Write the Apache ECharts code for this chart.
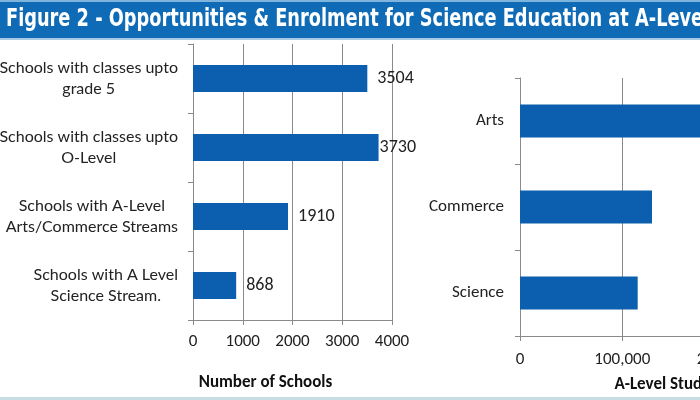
<!DOCTYPE html>
<html>
<head>
<meta charset="utf-8">
<script src="https://cdn.jsdelivr.net/npm/echarts@6/dist/echarts.min.js"></script>
<style>
html,body{margin:0;padding:0;background:#fff;}
#c{width:700px;height:400px;}
</style>
</head>
<body>
<div id="c"></div>
<script>
var titleText = 'Figure 2 - Opportunities & Enrolment for Science Education at A-Level';
var schoolCategories = ['Schools with classes upto\ngrade 5', 'Schools with classes upto\nO-Level', 'Schools with A-Level\nArts/Commerce Streams', 'Schools with A Level\nScience Stream.'];
var schoolValues = [3504, 3730, 1910, 868];
var streamCategories = ['Arts', 'Commerce', 'Science'];
var streamValues = [215000, 129000, 115000];
var schoolAxisName = 'Number of Schools';
var streamAxisName = 'A-Level Students';

var FONT = 'Carlito, Lato, "Liberation Sans", sans-serif';
var CAT_FONT = 'Lato, "Liberation Sans", sans-serif';
var CAT_SIZE = 16;
var BAR = '#0b5fae';
var GRID = '#8a8a8a';

var chart = echarts.init(document.getElementById('c'));
chart.setOption({
  animation: false,
  backgroundColor: '#ffffff',
  graphic: [
    {type: 'rect', shape: {x: 0, y: 0, width: 700, height: 2}, style: {fill: '#7fb4dc'}},
    {type: 'rect', shape: {x: 0, y: 2, width: 700, height: 36}, style: {fill: '#0f6bb6'}},
    {type: 'rect', shape: {x: 0, y: 38, width: 700, height: 2}, style: {fill: '#a9cbe6'}},
    {type: 'rect', shape: {x: 0, y: 397, width: 700, height: 3}, style: {fill: '#c9dde6'}},
    {type: 'text', x: 6, y: 7, scaleX: 0.79, style: {text: titleText, fill: '#ffffff',
      font: 'bold 25px "Liberation Sans Narrow", "DejaVu Sans Condensed", sans-serif'}}
  ],
  grid: [
    {left: 193, top: 44, width: 199, height: 276, containLabel: false, outerBoundsMode: 'none'},
    {left: 520, top: 78, width: 307, height: 258, containLabel: false, outerBoundsMode: 'none'}
  ],
  xAxis: [
    {gridIndex: 0, type: 'value', min: 0, max: 4000, interval: 1000,
     axisLine: {show: true, lineStyle: {color: GRID}},
     axisTick: {show: true, length: 5, lineStyle: {color: GRID}},
     splitLine: {show: true, lineStyle: {color: GRID, width: 1}},
     axisLabel: {fontFamily: FONT, fontSize: 17, color: '#222', margin: 13,
       formatter: function (v) { return String(v); }},
     name: schoolAxisName, nameLocation: 'middle', nameGap: 54,
     nameTextStyle: {fontFamily: FONT, fontSize: 17, fontWeight: 'bold', color: '#111', padding: [0, 54, 0, 0]}},
    {gridIndex: 1, type: 'value', min: 0, max: 300000, interval: 100000,
     axisLine: {show: true, lineStyle: {color: GRID}},
     axisTick: {show: true, length: 5, lineStyle: {color: GRID}},
     splitLine: {show: true, lineStyle: {color: GRID, width: 1}},
     axisLabel: {fontFamily: FONT, fontSize: 17, color: '#222', margin: 15,
       formatter: function (v) { return v.toLocaleString('en-US'); }},
     name: streamAxisName, nameLocation: 'middle', nameGap: 40,
     nameTextStyle: {fontFamily: FONT, fontSize: 17, fontWeight: 'bold', color: '#111'}}
  ],
  yAxis: [
    {gridIndex: 0, type: 'category', data: schoolCategories, inverse: true,
     axisLine: {show: true, lineStyle: {color: GRID}},
     axisTick: {show: true, length: 5, lineStyle: {color: GRID}},
     axisLabel: {margin: 15, align: 'right', fontFamily: CAT_FONT, fontSize: CAT_SIZE, color: '#222', lineHeight: 21,
       formatter: function (v) {
         return v.split('\n').map(function (s) { return '{c|' + s + '}'; }).join('\n');
       },
       rich: {c: {fontFamily: CAT_FONT, fontSize: CAT_SIZE, color: '#222', align: 'center', lineHeight: 21}}}},
    {gridIndex: 1, type: 'category', data: streamCategories, inverse: true,
     axisLine: {show: true, lineStyle: {color: GRID}},
     axisTick: {show: true, length: 5, lineStyle: {color: GRID}},
     axisLabel: {margin: 16, fontFamily: FONT, fontSize: 17, color: '#222'}}
  ],
  series: [
    {type: 'bar', xAxisIndex: 0, yAxisIndex: 0, barWidth: 27,
     itemStyle: {color: BAR},
     data: schoolValues.map(function (v, i) {
       return {value: v, label: {distance: i === 1 ? 1 : 10}};
     }),
     label: {show: true, position: 'right', fontFamily: FONT, fontSize: 18, color: '#222'}},
    {type: 'bar', xAxisIndex: 1, yAxisIndex: 1, barWidth: 33,
     itemStyle: {color: BAR},
     data: streamValues}
  ]
});
</script>
</body>
</html>
